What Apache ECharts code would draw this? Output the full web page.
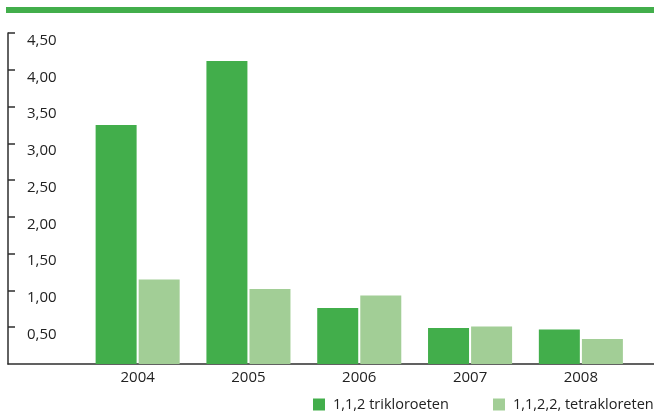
<!DOCTYPE html>
<html lang="nl">
<head>
    <meta charset="UTF-8">
    <title>trikloroeten</title>
    <script src="https://cdn.jsdelivr.net/npm/echarts@6/dist/echarts.min.js"></script>
    <style>
        html, body { margin: 0; padding: 0; background: #fff; }
        #container { width: 654px; height: 412px; }
    </style>
</head>
<body>
<div id="container"></div>
<script>
    var years = [2004, 2005, 2006, 2007, 2008];
    var triValues = [3.25, 4.12, 0.76, 0.49, 0.47];
    var tetraValues = [1.15, 1.02, 0.93, 0.51, 0.34];
    var seriesNames = ['1,1,2 trikloroeten', '1,1,2,2, tetrakloreten'];

    var darkGreen = '#42ae4b';
    var lightGreen = '#a2ce96';
    var axisColor = '#2e2e2e';
    var font = 'Open Sans';

    function pairs(vals) {
        var out = [];
        for (var i = 0; i < years.length; i++) {
            out.push([years[i], vals[i]]);
        }
        return out;
    }

    // one legend per item so they sit where the original puts them
    function legendAt(left, name) {
        return {
            left: left,
            top: 397,
            padding: 0,
            itemWidth: 12,
            itemHeight: 12,
            icon: 'rect',
            textStyle: { fontFamily: font, fontSize: 14.5, color: '#222', padding: [0, 0, 0, 3] },
            data: [name]
        };
    }

    var myChart = echarts.init(document.getElementById('container'));
    var option = {
        animation: false,
        textStyle: { fontFamily: font },
        graphic: [{
            type: 'rect',
            shape: { x: 6, y: 7, width: 648, height: 6 },
            style: { fill: darkGreen }
        }],
        grid: { left: 8, right: 0, top: 33, bottom: 48 },
        legend: [legendAt(313, seriesNames[0]), legendAt(493, seriesNames[1])],
        xAxis: {
            type: 'value',
            min: 2002.83,
            max: 2008.66,
            splitLine: { show: false },
            axisTick: { show: false },
            axisLine: { show: true, lineStyle: { color: axisColor, width: 1.5 } },
            axisLabel: {
                customValues: years,
                margin: 6,
                fontSize: 15,
                color: '#222',
                formatter: function (v) {
                    return String(Math.round(v));
                }
            }
        },
        yAxis: {
            type: 'value',
            min: 0,
            max: 4.5,
            interval: 0.5,
            splitLine: { show: false },
            axisLine: { show: true, lineStyle: { color: axisColor, width: 1.5 } },
            axisTick: { show: true, inside: true, length: 7, lineStyle: { color: axisColor, width: 1.5 } },
            axisLabel: {
                inside: true,
                margin: 19,
                showMinLabel: false,
                fontSize: 15,
                color: '#222',
                verticalAlign: 'top',
                formatter: function (v) {
                    return v.toFixed(2).replace('.', ',');
                }
            }
        },
        series: [{
            name: seriesNames[0],
            type: 'bar',
            data: pairs(triValues),
            barWidth: 41,
            barGap: '5%',
            itemStyle: { color: darkGreen }
        }, {
            name: seriesNames[1],
            type: 'bar',
            data: pairs(tetraValues),
            barWidth: 41,
            barGap: '5%',
            itemStyle: { color: lightGreen }
        }]
    };
    myChart.setOption(option);
</script>
</body>
</html>
